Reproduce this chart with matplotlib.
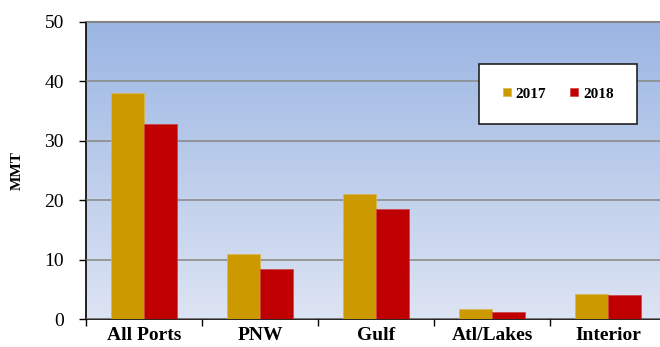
import matplotlib.pyplot as plt
import numpy as np
from matplotlib.colors import LinearSegmentedColormap

regions = ['All Ports', 'PNW', 'Gulf', 'Atl/Lakes', 'Interior']
vals_2017 = [38.0, 11.0, 21.0, 1.7, 4.2]
vals_2018 = [32.8, 8.5, 18.5, 1.2, 4.0]
years = ['2017', '2018']

gold = '#CC9900'
red = '#C00000'


def main():
    plt.rcParams['font.family'] = ['Liberation Serif', 'DejaVu Serif']
    fig = plt.figure(figsize=(6.6, 3.47), dpi=100)
    ax = fig.add_axes([86 / 660, 1 - 319 / 347, 580 / 660, 297 / 347])

    # gradient background
    cmap = LinearSegmentedColormap.from_list('bg', ['#DDE4F3', '#9BB6E3'])
    grad = np.linspace(0, 1, 256).reshape(-1, 1)
    ax.imshow(grad, cmap=cmap, aspect='auto', origin='lower',
              extent=[-0.5, 4.5, 0, 50], zorder=0)

    x = np.arange(len(regions))
    w = 0.285
    ax.bar(x - w / 2, vals_2017, w, color=gold, edgecolor='#D9B84D',
           linewidth=0.5, label=years[0], zorder=3)
    ax.bar(x + w / 2, vals_2018, w, color=red, edgecolor='#D04040',
           linewidth=0.5, label=years[1], zorder=3)

    ax.set_xlim(-0.5, 4.5)
    ax.set_ylim(0, 50)
    ax.set_yticks(range(0, 51, 10))
    ax.yaxis.grid(True, color='#8C8C8C', linewidth=1.2, zorder=1)
    ax.set_axisbelow(False)

    ax.set_xticks(np.arange(-0.5, 5, 1), minor=False)
    ax.set_xticklabels([])
    ax.set_xticks(x, minor=True)
    ax.set_xticklabels(regions, minor=True, fontsize=14, fontweight='bold')
    ax.tick_params(axis='x', which='minor', length=0, pad=6)
    ax.tick_params(axis='x', which='major', length=5, direction='out',
                   width=1)
    ax.tick_params(axis='y', length=5, direction='out', labelsize=14,
                   width=1, pad=11)

    ax.spines['right'].set_visible(False)
    ax.spines['top'].set_color('#808080')
    ax.spines['top'].set_linewidth(1.5)
    ax.spines['left'].set_linewidth(1.2)
    ax.spines['bottom'].set_linewidth(1.2)

    ax.set_ylabel('MMT', fontsize=11, fontweight='bold', labelpad=15)

    leg = ax.legend(loc='upper left',
                    bbox_to_anchor=((479 - 86) / 580, (319 - 64) / 297),
                    ncol=2, frameon=True, fancybox=False, edgecolor='#222222',
                    facecolor='white', framealpha=1,
                    handlelength=0.52, handleheight=0.46, handletextpad=0.33,
                    columnspacing=1.55, borderpad=1.55, borderaxespad=0,
                    prop={'weight': 'bold', 'size': 11})
    leg.get_frame().set_linewidth(1.2)
    leg.set_zorder(5)

    fig.savefig('out.png', dpi=100)


if __name__ == '__main__':
    main()
